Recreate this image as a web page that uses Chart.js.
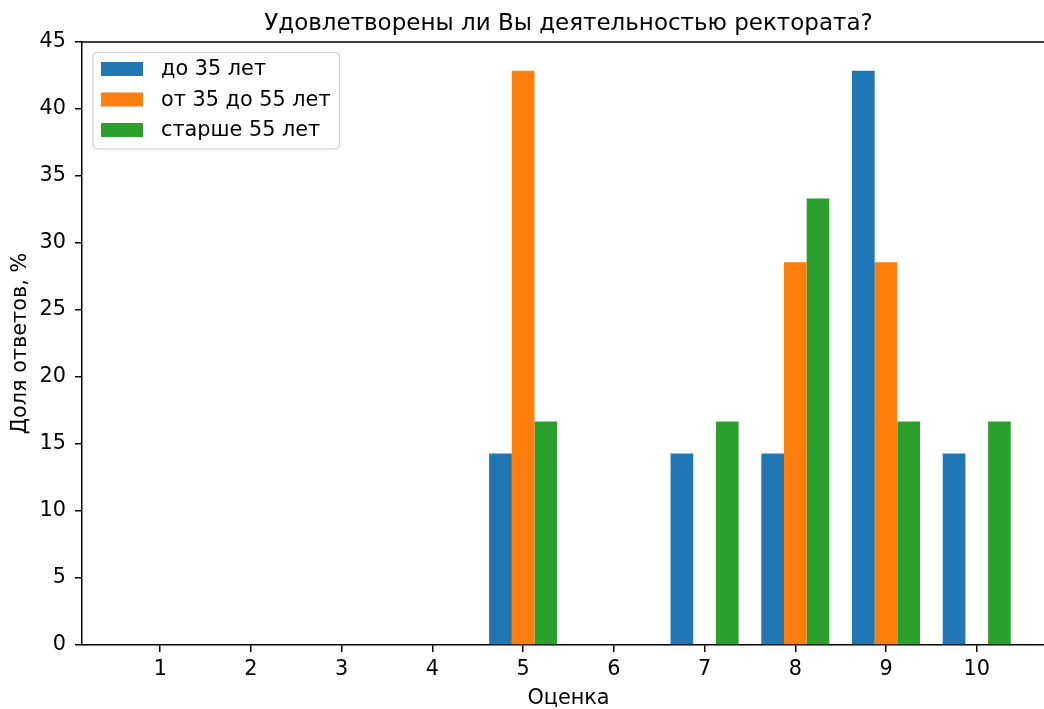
<!DOCTYPE html>
<html>
<head>
<meta charset="utf-8">
<script src="https://cdn.jsdelivr.net/npm/chart.js@4.4.0/dist/chart.umd.min.js"></script>
<style>
  html, body { margin: 0; padding: 0; background: #fff; overflow: hidden; }
  #wrap { width: 1044px; height: 709px; overflow: hidden; }
</style>
</head>
<body>
<div id="wrap"><canvas id="chart" width="1070" height="709"></canvas></div>
<script>
// оценки 1..10
const grades = [1, 2, 3, 4, 5, 6, 7, 8, 9, 10];
const under35 = [0, 0, 0, 0, 14.29, 0, 14.29, 14.29, 42.86, 14.29];
const from35to55 = [0, 0, 0, 0, 42.86, 0, 0, 28.57, 28.57, 0];
const over55 = [0, 0, 0, 0, 16.67, 0, 16.67, 33.33, 16.67, 16.67];
const seriesLabels = ['до 35 лет', 'от 35 до 55 лет', 'старше 55 лет'];
const yTicks = [0, 5, 10, 15, 20, 25, 30, 35, 40, 45];

const titleText = 'Удовлетворены ли Вы деятельностью ректората?';
const FONT = 'DejaVu Sans';
const FS = 20.8;

function pts(vals) {
    return grades.map((g, i) => ({ x: g, y: vals[i] }));
}

// рамка сверху, заголовок и легенда как в matplotlib
const extras = {
    id: 'extras',
    afterDraw(chart) {
        const ctx = chart.ctx;
        const a = chart.chartArea;
        ctx.save();
        ctx.strokeStyle = '#000';
        ctx.lineWidth = 1.5;
        ctx.beginPath();
        ctx.moveTo(a.left - 0.75, a.top);
        ctx.lineTo(a.right, a.top);
        ctx.stroke();

        ctx.fillStyle = '#000';
        ctx.font = '23px "' + FONT + '"';
        ctx.textAlign = 'center';
        ctx.textBaseline = 'alphabetic';
        ctx.fillText(titleText, (a.left + a.right) / 2, 30);

        // legend box
        const x0 = 93, y0 = 52.5, w = 246.5, h = 96.5, r = 4;
        ctx.beginPath();
        ctx.roundRect(x0, y0, w, h, r);
        ctx.fillStyle = 'rgba(255,255,255,0.8)';
        ctx.fill();
        ctx.strokeStyle = '#d0d0d0';
        ctx.lineWidth = 1.2;
        ctx.stroke();
        ctx.font = FS + 'px "' + FONT + '"';
        ctx.textAlign = 'left';
        ctx.textBaseline = 'middle';
        chart.data.datasets.forEach((ds, i) => {
            const cy = 69 + i * 30.5;
            ctx.fillStyle = ds.backgroundColor;
            ctx.fillRect(101, cy - 7, 42, 14);
            ctx.fillStyle = '#000';
            ctx.fillText(ds.label, 161, cy + 1);
        });
        ctx.restore();
    }
};

new Chart(document.getElementById('chart'), {
    type: 'bar',
    data: {
        datasets: [
            { label: seriesLabels[0], data: pts(under35), backgroundColor: '#1f77b4' },
            { label: seriesLabels[1], data: pts(from35to55), backgroundColor: '#ff7f0e' },
            { label: seriesLabels[2], data: pts(over55), backgroundColor: '#2ca02c' }
        ]
    },
    options: {
        responsive: false,
        animation: false,
        devicePixelRatio: 1,
        layout: { padding: { top: 42, right: 15, left: 0, bottom: 0 } },
        datasets: {
            bar: { categoryPercentage: 0.75, barPercentage: 1.0, borderWidth: 0 }
        },
        plugins: {
            legend: { display: false },
            title: { display: false },
            tooltip: { enabled: false }
        },
        scales: {
            x: {
                type: 'linear',
                offset: false,
                min: 0.1375,
                max: 10.8625,
                afterBuildTicks: s => { s.ticks = grades.map(v => ({ value: v })); },
                afterFit: s => { s.height = 64; },
                ticks: {
                    color: '#000',
                    font: { family: FONT, size: FS },
                    padding: 5,
                    maxRotation: 0,
                    autoSkip: false
                },
                grid: { offset: false, drawOnChartArea: false, drawTicks: true, tickLength: 7, color: '#000', lineWidth: 1.5 },
                border: { display: true, color: '#000', width: 1.5 },
                title: {
                    display: true,
                    text: 'Оценка',
                    color: '#000',
                    font: { family: FONT, size: FS, lineHeight: 1.0 },
                    padding: { top: 0, bottom: 0 }
                }
            },
            y: {
                min: 0,
                max: 45,
                afterBuildTicks: s => { s.ticks = yTicks.map(v => ({ value: v })); },
                afterFit: s => { s.width = 82; },
                ticks: {
                    color: '#000',
                    font: { family: FONT, size: FS },
                    padding: 9
                },
                grid: { offset: false, drawOnChartArea: false, drawTicks: true, tickLength: 7, color: '#000', lineWidth: 1.5 },
                border: { display: true, color: '#000', width: 1.5 },
                title: {
                    display: true,
                    text: 'Доля ответов, %',
                    color: '#000',
                    font: { family: FONT, size: FS },
                    padding: { top: 8, bottom: 0 }
                }
            }
        }
    },
    plugins: [extras]
});
</script>
</body>
</html>
